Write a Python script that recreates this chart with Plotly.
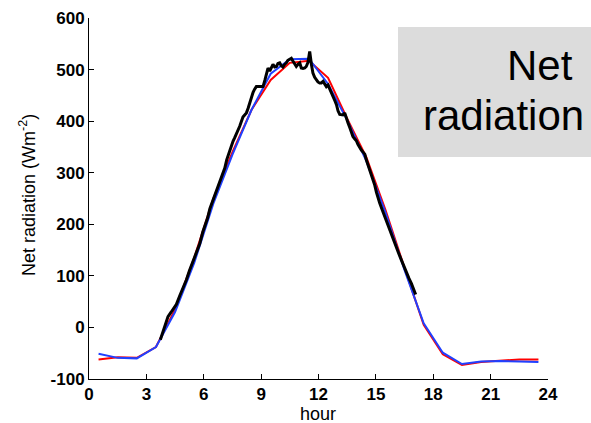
import plotly.graph_objects as go

# hourly model values
hours = [0.5, 1.5, 2.5, 3.5, 4.5, 5.5, 6.5, 7.5, 8.5, 9.5, 10.5, 11.5,
         12.5, 13.5, 14.5, 15.5, 16.5, 17.5, 18.5, 19.5, 20.5, 21.5, 22.5, 23.5]
red_vals = [-62, -58, -59, -38, 35, 135, 250, 340, 422, 480, 513, 517,
            484, 405, 330, 228, 115, 5, -52, -73, -67, -64, -62, -62]
blue_vals = [-51, -59, -60, -38, 30, 125, 240, 335, 422, 492, 520, 521,
             472, 402, 323, 223, 111, 8, -49, -71, -66, -65, -66, -67]

# observed (black) series
obs_x = [3.73, 3.90, 4.05, 4.13, 4.30, 4.45, 4.57, 4.75, 4.90, 5.09, 5.25, 5.40,
         5.55, 5.70, 5.79, 5.95, 6.05, 6.20, 6.32, 6.45, 6.57, 6.70, 6.83, 6.95,
         7.10, 7.20, 7.27, 7.40, 7.53, 7.62, 7.71, 7.80, 7.88, 8.05, 8.15, 8.23,
         8.32, 8.40, 8.50, 8.58, 8.66, 8.75, 8.93, 9.10, 9.20, 9.28, 9.36, 9.45,
         9.54, 9.62, 9.71, 9.80, 9.88, 9.97, 10.05, 10.14, 10.23, 10.32, 10.40, 10.49,
         10.58, 10.67, 10.75, 10.84, 10.93, 11.02, 11.10, 11.19, 11.28, 11.36, 11.45, 11.54,
         11.63, 11.71, 11.80, 11.89, 11.97, 12.06, 12.15, 12.24, 12.32, 12.41, 12.50, 12.59,
         12.68, 12.76, 12.85, 12.94, 13.02, 13.11, 13.20, 13.28, 13.37, 13.45, 13.54, 13.63,
         13.72, 13.80, 13.89, 13.98, 14.06, 14.15, 14.24, 14.33, 14.42, 14.50, 14.59, 14.68,
         14.76, 14.85, 14.94, 15.03, 15.11, 15.20, 15.33, 15.46, 15.55, 15.64, 15.72, 15.81,
         15.90, 15.99, 16.07, 16.20, 16.33, 16.46, 16.60, 16.73, 16.86, 16.97, 17.08]
obs_y = [-24, -5, 15, 21, 30, 38, 45, 62, 75, 92, 110, 125,
         138, 152, 162, 185, 196, 212, 230, 243, 256, 268, 282, 293,
         309, 325, 333, 348, 361, 368, 375, 383, 390, 408, 412, 416,
         425, 436, 448, 456, 462, 467, 467, 467, 480, 493, 503, 497,
         506, 510, 505, 506, 512, 513, 508, 505, 510, 513, 518, 520,
         522, 516, 512, 506, 510, 513, 503, 502, 503, 506, 514, 535,
         510, 493, 485, 480, 476, 474, 474, 477, 472, 467, 470, 463,
         455, 447, 440, 432, 420, 413, 413, 412, 416, 405, 397, 388,
         377, 370, 366, 362, 355, 348, 344, 340, 336, 325, 315, 306,
         296, 286, 276, 262, 251, 241, 228, 215, 207, 198, 188, 178,
         170, 163, 155, 143, 131, 118, 105, 95, 85, 74, 64]

x_ticks = [0, 3, 6, 9, 12, 15, 18, 21, 24]
y_ticks = [-100, 0, 100, 200, 300, 400, 500, 600]

FONT = "Liberation Sans, Arial, sans-serif"
L, R, T, B = 89, 43, 18, 44
W, H = 591, 423
PW, PH = W - L - R, H - T - B


def px_x(p):
    return (p - L) / PW


def px_y(p):
    return (H - B - p) / PH


fig = go.Figure()
fig.add_trace(go.Scatter(x=hours, y=red_vals, mode="lines",
                         line=dict(color="#ff0000", width=2), showlegend=False))
fig.add_trace(go.Scatter(x=hours, y=blue_vals, mode="lines",
                         line=dict(color="#2040ff", width=2), showlegend=False))
fig.add_trace(go.Scatter(x=obs_x, y=obs_y, mode="lines",
                         line=dict(color="#000000", width=3), showlegend=False))

tickfont = dict(size=17, family="Liberation Sans, Arial, sans-serif", color="black", weight="bold")

fig.update_layout(
    width=W, height=H,
    margin=dict(l=L, r=R, t=T, b=B, autoexpand=False),
    paper_bgcolor="white", plot_bgcolor="white",
    font=dict(family=FONT, size=18, color="black"),
    xaxis=dict(range=[0, 24], tickvals=x_ticks, ticktext=[str(v) for v in x_ticks],
               showgrid=False, zeroline=False, showline=True, linecolor="black",
               linewidth=1, ticks="inside", ticklen=5, tickcolor="black",
               tickfont=tickfont, automargin=False),
    yaxis=dict(range=[-100, 600], tickvals=y_ticks, ticktext=[str(v) for v in y_ticks],
               showgrid=False, zeroline=False, showline=True, linecolor="black",
               linewidth=1, ticks="inside", ticklen=5, tickcolor="black",
               tickfont=tickfont, automargin=False),
    shapes=[dict(type="rect", xref="paper", yref="paper",
                 x0=px_x(398), x1=px_x(600), y0=px_y(157), y1=px_y(27),
                 fillcolor="#dcdcdc", line=dict(width=0), layer="below")],
    annotations=[
        dict(text="hour", xref="paper", yref="paper", x=px_x(318), y=px_y(414),
             xanchor="center", yanchor="middle", showarrow=False,
             font=dict(size=18, family=FONT, color="black")),
        dict(text="Net radiation (Wm<sup>-2</sup>)", xref="paper", yref="paper",
             x=px_x(27), y=px_y(195), textangle=-90,
             xanchor="center", yanchor="middle", showarrow=False,
             font=dict(size=18, family=FONT, color="black")),
        dict(text="Net", xref="paper", yref="paper", x=px_x(575), y=px_y(66),
             xanchor="right", yanchor="middle", showarrow=False,
             font=dict(size=42, family=FONT, color="black")),
        dict(text="radiation", xref="paper", yref="paper", x=px_x(586), y=px_y(116),
             xanchor="right", yanchor="middle", showarrow=False,
             font=dict(size=42, family=FONT, color="black")),
    ],
)

fig.write_html("out.html", config={"displayModeBar": False},
               post_script="document.body.style.margin='0';document.body.style.overflow='hidden';")
